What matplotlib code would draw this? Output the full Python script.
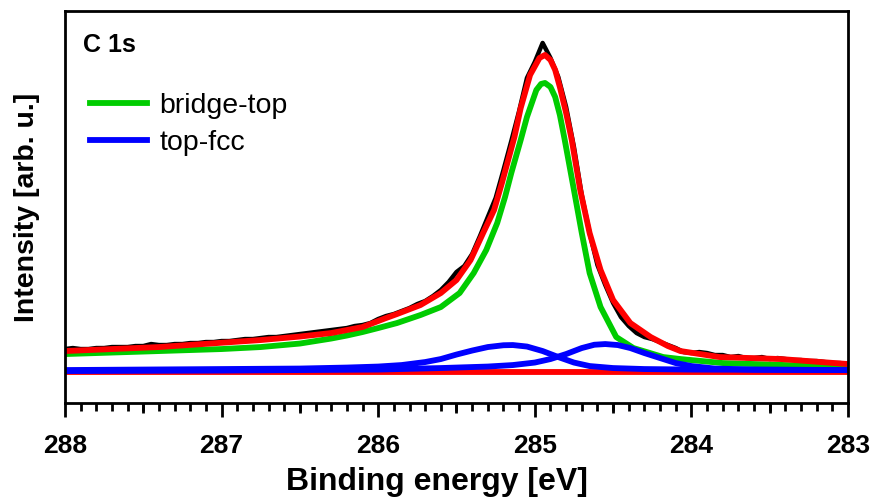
import matplotlib.pyplot as plt
import numpy as np

plt.rcParams['font.family'] = ['Liberation Sans', 'DejaVu Sans']

# measured spectrum, 0.05 eV steps from 288 down to 283
energy = np.round(np.arange(288.0, 282.975, -0.05), 2)
counts = [54, 55, 54, 54, 55, 55, 56, 56, 56, 57,
          57, 59, 58, 58, 59, 59, 60, 60, 61, 61,
          62, 62, 63, 64, 64, 65, 66, 66, 67, 68,
          69, 70, 71, 72, 73, 74, 75, 77, 78, 80,
          84, 87, 89, 92, 95, 99, 102, 107, 113, 121,
          131, 137, 149, 167, 186, 205, 233, 262, 292, 325,
          341, 360, 345, 326, 296, 256, 208, 170, 138, 118,
          100, 86, 77, 70, 66, 64, 61, 58, 55, 51,
          50, 51, 50, 48, 48, 46, 47, 45, 45, 46,
          44, 45, 44, 43, 43, 42, 42, 41, 40, 40,
          39]

# fitted envelope
fit_energy = [288.0, 287.4, 286.75, 286.5, 286.3, 286.1, 285.95, 285.88, 285.73,
              285.6, 285.5, 285.41, 285.33, 285.26, 285.21, 285.17, 285.13,
              285.09, 285.03, 284.97, 284.935, 284.9, 284.87, 284.84, 284.8,
              284.764, 284.71, 284.65, 284.58, 284.5, 284.39, 284.26, 284.15,
              284.07, 283.82, 283.43, 283.0]
fit_counts = [52, 56, 63, 66.5, 70, 76, 85, 89, 98,
              110, 123, 143, 170, 193, 220, 243, 266,
              295, 328, 345, 348, 343, 333, 316, 290,
              263, 213, 170, 133, 103, 80, 66, 57,
              52, 46, 44, 39]

# bridge-top component
bt_energy = [288.0, 287.5, 287.0, 286.75, 286.5, 286.4, 286.3, 286.2, 286.1,
             286.0, 285.88, 285.73, 285.6, 285.48, 285.39, 285.31, 285.24,
             285.19, 285.15, 285.09, 285.05, 284.99, 284.96, 284.935, 284.9,
             284.87, 284.84, 284.81, 284.75, 284.7, 284.65, 284.58, 284.48,
             284.37, 284.18, 284.07, 283.8, 283.6, 283.0]
bt_counts = [49, 51.5, 54, 56, 59.5, 62, 64.5, 67.5, 71,
             75, 80, 88, 96, 110, 130, 153, 180,
             206, 230, 263, 286, 313, 319, 320, 316,
             306, 288, 264, 213, 170, 130, 96, 66,
             55, 46, 44, 40, 39, 36]

# top-fcc components
fcc1_energy = [288.0, 287.0, 286.5, 286.2, 286.0, 285.85, 285.7, 285.6, 285.5,
               285.4, 285.3, 285.2, 285.14, 285.05, 284.95, 284.85, 284.75,
               284.65, 284.5, 284.3, 284.0, 283.0]
fcc1_counts = [33, 34, 34.5, 35.5, 36.5, 38, 41, 44, 48.5,
               52.5, 56, 57.8, 58, 56.5, 52, 46, 40.5,
               37, 35, 34, 33.5, 33]
fcc2_energy = [288.0, 287.0, 286.0, 285.6, 285.3, 285.14, 285.0, 284.9, 284.8,
               284.7, 284.62, 284.55, 284.47, 284.39, 284.3, 284.2, 284.1,
               284.0, 283.85, 283.6, 283.0]
fcc2_counts = [32, 32.5, 33.5, 35, 36.5, 38, 40.5, 44, 49,
               55, 58.3, 59, 58, 55, 50, 45, 40,
               37, 34.5, 33.5, 33]

# background
bg_energy = [288.0, 283.0]
bg_counts = [31, 31]

fig = plt.figure(figsize=(8.72, 4.97), dpi=100)
ax = fig.add_axes([0.0745, 0.189, 0.898, 0.789])

ax.plot(energy, counts, color='black', lw=3.2)
ax.plot(bg_energy, bg_counts, color='#ff0000', lw=4.2)
ax.plot(bt_energy, bt_counts, color='#00cc00', lw=4.2, label='bridge-top')
ax.plot(fcc1_energy, fcc1_counts, color='#0000ff', lw=4.2, label='top-fcc')
ax.plot(fcc2_energy, fcc2_counts, color='#0000ff', lw=4.2)
ax.plot(fit_energy, fit_counts, color='#ff0000', lw=4.2)

ax.set_xlim(288, 283)
ax.set_ylim(0, 392)
ax.set_xticks([288, 287, 286, 285, 284, 283])
ax.set_xticks(np.arange(283, 288.01, 0.1), minor=True)
ax.set_yticks([])
ax.tick_params(axis='x', which='major', length=10, width=2, direction='out',
               labelsize=19, pad=12)
ax.tick_params(axis='x', which='minor', length=5.7, width=2, direction='out')
for lab in ax.get_xticklabels():
    lab.set_fontweight('bold')

# slightly longer ticks at the half-eV positions
half = ax.secondary_xaxis('bottom')
half.set_xticks([287.5, 286.5, 285.5, 284.5, 283.5])
half.tick_params(length=7, width=2, direction='out', labelbottom=False)
half.spines['bottom'].set_visible(False)

for s in ax.spines.values():
    s.set_linewidth(2)

ax.set_xlabel('Binding energy [eV]', fontsize=23, fontweight='bold',
              labelpad=7, x=0.475)
ax.set_ylabel('Intensity [arb. u.]', fontsize=20.5, fontweight='bold', labelpad=18)

ax.text(0.023, 0.913, 'C 1s', transform=ax.transAxes, fontsize=18,
        fontweight='bold', va='center')

leg = ax.legend(loc='upper left', bbox_to_anchor=(0.017, 0.82), frameon=False,
                fontsize=20.5, handlelength=2.0, handletextpad=0.45,
                labelspacing=0.4, borderaxespad=0)

fig.savefig('out.png', dpi=100)
